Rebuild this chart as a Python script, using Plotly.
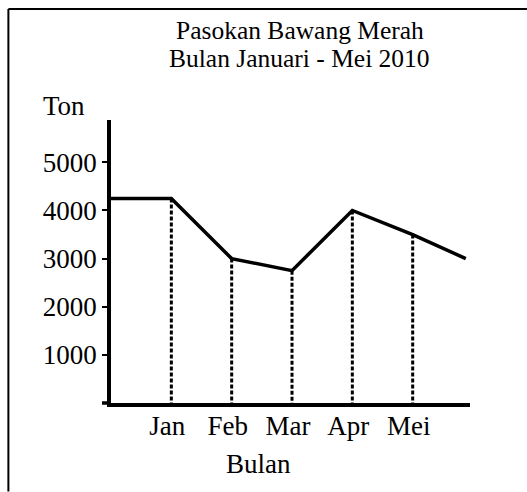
import plotly.graph_objects as go

# ---- data ----
months = ["Jan", "Feb", "Mar", "Apr", "Mei"]
month_pos = [1, 2, 3, 4, 5]
supply = [4250, 3000, 2750, 4000, 3500]     # ton
start_pos, start_val = 0, 4250
end_pos, end_val = 5.88, 3000
y_ticks = [1000, 2000, 3000, 4000, 5000]
title_lines = ["Pasokan Bawang Merah", "Bulan Januari - Mei 2010"]
y_title = "Ton"
x_title = "Bulan"

W, H = 527, 492
L, R, T, B = 110.7, 470.0, 120.0, 403.3
FONT = "Liberation Serif, Times New Roman, serif"
FS = 27
FS_TITLE = 25.5

def px(xp):
    return (xp - L) / (R - L)

def py(yp):
    return (B - yp) / (B - T)

fig = go.Figure()

line_x = [start_pos] + month_pos + [end_pos]
line_y = [start_val] + supply + [end_val]
fig.add_trace(go.Scatter(x=line_x, y=line_y, mode="lines",
                         line=dict(color="black", width=3.5),
                         hoverinfo="skip", showlegend=False))

for xm, v in zip(month_pos, supply):
    fig.add_trace(go.Scatter(x=[xm, xm], y=[v, 0], mode="lines",
                             line=dict(color="black", width=3, dash="4px,2px"),
                             hoverinfo="skip", showlegend=False, cliponaxis=False))

shapes = [
    dict(type="line", xref="paper", yref="paper", x0=px(101.7), x1=0, y0=0, y1=0,
         line=dict(color="black", width=3.5)),
    dict(type="line", xref="paper", yref="paper", x0=px(8), x1=px(527), y0=py(9), y1=py(9),
         line=dict(color="black", width=2)),
    dict(type="line", xref="paper", yref="paper", x0=px(8), x1=px(8), y0=py(9), y1=py(492),
         line=dict(color="black", width=2)),
]

annotations = [
    dict(text=title_lines[0], xref="paper", yref="paper", x=px(300), y=py(30.5),
         xanchor="center", yanchor="middle", showarrow=False,
         font=dict(family=FONT, size=FS_TITLE, color="black")),
    dict(text=title_lines[1], xref="paper", yref="paper", x=px(299), y=py(58.5),
         xanchor="center", yanchor="middle", showarrow=False,
         font=dict(family=FONT, size=FS_TITLE, color="black")),
    dict(text=y_title, xref="paper", yref="paper", x=px(64), y=py(106),
         xanchor="center", yanchor="middle", showarrow=False,
         font=dict(family=FONT, size=FS, color="black")),
    dict(text=x_title, xref="paper", yref="paper", x=px(258), y=py(464),
         xanchor="center", yanchor="middle", showarrow=False,
         font=dict(family=FONT, size=FS, color="black")),
]

fig.update_layout(
    width=W, height=H,
    margin=dict(l=L, r=W - R, t=T, b=H - B),
    paper_bgcolor="white", plot_bgcolor="white",
    shapes=shapes, annotations=annotations,
    font=dict(family=FONT, size=FS, color="black"),
    xaxis=dict(range=[0, 5.95], tickvals=month_pos, ticktext=months,
               showline=True, linecolor="black", linewidth=3.5,
               ticks="", showgrid=False, zeroline=False, fixedrange=True,
               ticklabelstandoff=-4, ticklabelshift=-4,
               tickfont=dict(family=FONT, size=FS, color="black")),
    yaxis=dict(range=[0, 5880], tickvals=y_ticks,
               showline=True, linecolor="black", linewidth=3.5,
               ticks="outside", ticklen=5, tickwidth=2, tickcolor="black",
               showgrid=False, zeroline=False, fixedrange=True,
               tickfont=dict(family=FONT, size=FS, color="black")),
)

fig.write_html("out.html", config={"displayModeBar": False},
               post_script="document.body.style.margin='0';document.body.style.overflow='hidden';")
